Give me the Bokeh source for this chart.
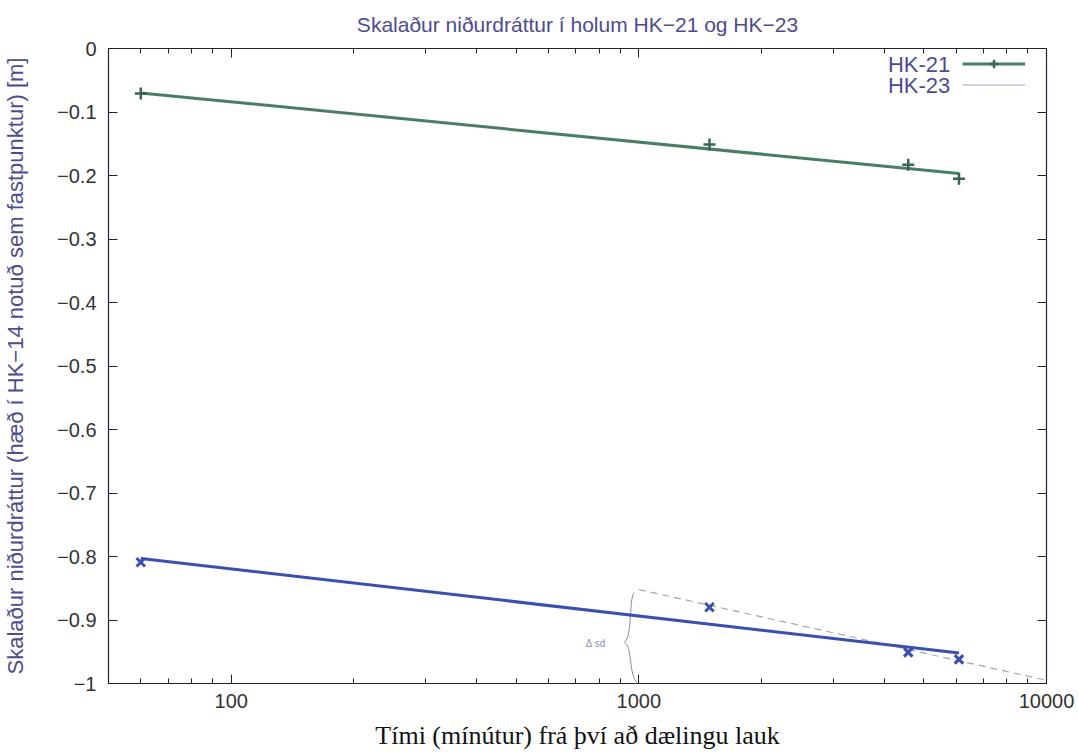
from bokeh.plotting import figure
from bokeh.models import (Range1d, FixedTicker, LogAxis, LinearAxis, CustomJSTickFormatter,
                          Legend, LegendItem, Label)
from bokeh.embed import file_html
from bokeh.resources import INLINE

# ---- texts ----
title_text = "Skalaður niðurdráttur í holum HK−21 og HK−23"
x_label = "Tími (mínútur) frá því að dælingu lauk"
y_label = "Skalaður niðurdráttur (hæð í HK−14 notuð sem fastpunktur) [m]"
series_names = ["HK-21", "HK-23"]

# ---- data ----
time_min = [60, 1490, 4580, 6100]
hk21 = [-0.071, -0.151, -0.183, -0.205]
hk23 = [-0.809, -0.880, -0.951, -0.962]

fit_x = [60, 6100]
fit21 = [-0.070, -0.197]
fit23 = [-0.803, -0.952]

# hand-drawn annotation (tangent + brace)
tangent_x = [1000, 10000]
tangent_y = [-0.852, -0.995]
brace_x0 = [975, 921]
brace_y0 = [-0.857, -0.935]
brace_cx0 = [945, 965]
brace_cy0 = [-0.862, -0.940]
brace_cx1 = [965, 945]
brace_cy1 = [-0.928, -0.992]
brace_x1 = [921, 992]
brace_y1 = [-0.935, -0.998]
annot_text = "Δ sd"
annot_x = 830
annot_y = -0.937

# ticks
x_major = [100, 1000, 10000]
x_minor = [50, 60, 70, 80, 90] + [m * 100 for m in range(2, 10)] + [m * 1000 for m in range(2, 10)]
y_ticks = [0, -0.1, -0.2, -0.3, -0.4, -0.5, -0.6, -0.7, -0.8, -0.9, -1.0]

# legend text positions (data units)
legend_x = 5808
legend_y = [-0.0252, -0.0583]

# ---- styles ----
sans = "Liberation Sans"
serif = "Liberation Serif"
purple = "#4d4d8e"
tick_col = "#333333"
green = "#4a7d66"
green_mk = "#3a6454"
blue = "#3b50ae"

p = figure(width=1076, height=755, x_axis_type="log",
           x_range=Range1d(50, 10000), y_range=Range1d(-1, 0),
           output_backend="svg", toolbar_location=None,
           min_border_left=106, min_border_right=30, min_border_top=48, min_border_bottom=72)
p.xgrid.visible = False
p.ygrid.visible = False
p.outline_line_color = "#222233"
p.outline_line_width = 1.2
p.background_fill_color = "white"
p.border_fill_color = "white"

p.title.text = title_text
p.title.align = "center"
p.title.vertical_align = "top"
p.title.text_font = sans
p.title.text_font_size = "21px"
p.title.text_font_style = "normal"
p.title.text_color = purple
p.title.standoff = 22

xt = FixedTicker(ticks=x_major, minor_ticks=x_minor)
yt = FixedTicker(ticks=y_ticks, minor_ticks=[])

xa = p.xaxis[0]
xa.ticker = xt
xa.formatter = CustomJSTickFormatter(code="return Math.round(tick).toString();")
xa.axis_label = x_label
xa.axis_label_text_font = serif
xa.axis_label_text_font_size = "26px"
xa.axis_label_text_font_style = "normal"
xa.axis_label_text_color = "#111111"
xa.axis_label_standoff = 10
xa.major_label_text_font = sans
xa.major_label_text_font_size = "20px"
xa.major_label_text_color = tick_col
xa.major_label_standoff = 10

ya = p.yaxis[0]
ya.ticker = yt
ya.formatter = CustomJSTickFormatter(code="""
const v = Math.round(Math.abs(tick) * 10) / 10;
return (tick < -1e-9 ? "\\u2212" : "") + v.toString();
""")
ya.axis_label = y_label
ya.axis_label_text_font = sans
ya.axis_label_text_font_size = "22px"
ya.axis_label_text_font_style = "normal"
ya.axis_label_text_color = purple
ya.axis_label_standoff = 26
ya.major_label_text_font = sans
ya.major_label_text_font_size = "20px"
ya.major_label_text_color = tick_col
ya.major_label_standoff = 12

for ax in (xa, ya):
    ax.axis_line_color = None
    ax.major_tick_in = 9
    ax.major_tick_out = 0
    ax.minor_tick_in = 5
    ax.minor_tick_out = 0
    ax.major_tick_line_color = "#222222"
    ax.minor_tick_line_color = "#222222"

blank = CustomJSTickFormatter(code="return '';")
top = LogAxis(ticker=xt, formatter=blank, major_label_text_font_size="2px", axis_line_color=None,
              major_tick_in=9, major_tick_out=0, minor_tick_in=5, minor_tick_out=0,
              major_label_standoff=0, major_tick_line_color="#222222",
              minor_tick_line_color="#222222")
right = LinearAxis(ticker=yt, formatter=blank, major_label_text_font_size="2px", axis_line_color=None,
                   major_tick_in=9, major_tick_out=0, minor_tick_in=0, minor_tick_out=0,
                   major_label_standoff=0, major_tick_line_color="#222222")
p.add_layout(top, "above")
p.add_layout(right, "right")

# hand-drawn annotation
p.line(tangent_x, tangent_y, line_color="#a8a8a8", line_width=1.2, line_dash="7 5")
p.bezier(x0=brace_x0, y0=brace_y0, x1=brace_x1, y1=brace_y1,
         cx0=brace_cx0, cy0=brace_cy0, cx1=brace_cx1, cy1=brace_cy1,
         line_color="#8a8aa8", line_width=1)
p.add_layout(Label(x=annot_x, y=annot_y, text=annot_text, text_font=sans,
                   text_font_size="10px", text_color="#8a90bb",
                   text_align="right", text_baseline="middle"))

# series
l21 = p.line(fit_x, fit21, line_color=green, line_width=3)
s21 = p.scatter(time_min, hk21, marker="cross", size=12, line_width=2.5, line_color=green_mk)
l23 = p.line(fit_x, fit23, line_color=blue, line_width=3)
s23 = p.scatter(time_min, hk23, marker="x", size=12, line_width=3, line_color=blue)
# legend-only sample for HK-23 (no visible points)
nan = float("nan")
leg23 = p.line([nan, nan], [nan, nan], line_color="#9ea3c4", line_width=1.2)

legend = Legend(items=[LegendItem(label=" ", renderers=[l21, s21]),
                       LegendItem(label=" ", renderers=[leg23])],
                location="top_right", margin=5, padding=0, spacing=0,
                glyph_width=63, glyph_height=21, label_height=21, label_width=6,
                label_standoff=10, label_text_font_size="20px",
                border_line_color=None, background_fill_alpha=0)
p.add_layout(legend, "center")

for name, yy in zip(series_names, legend_y):
    p.add_layout(Label(x=legend_x, y=yy, text=name, text_font=sans, text_font_size="22px",
                       text_color=purple, text_align="right", text_baseline="middle"))

open("out.html", "w").write(file_html(p, INLINE))
